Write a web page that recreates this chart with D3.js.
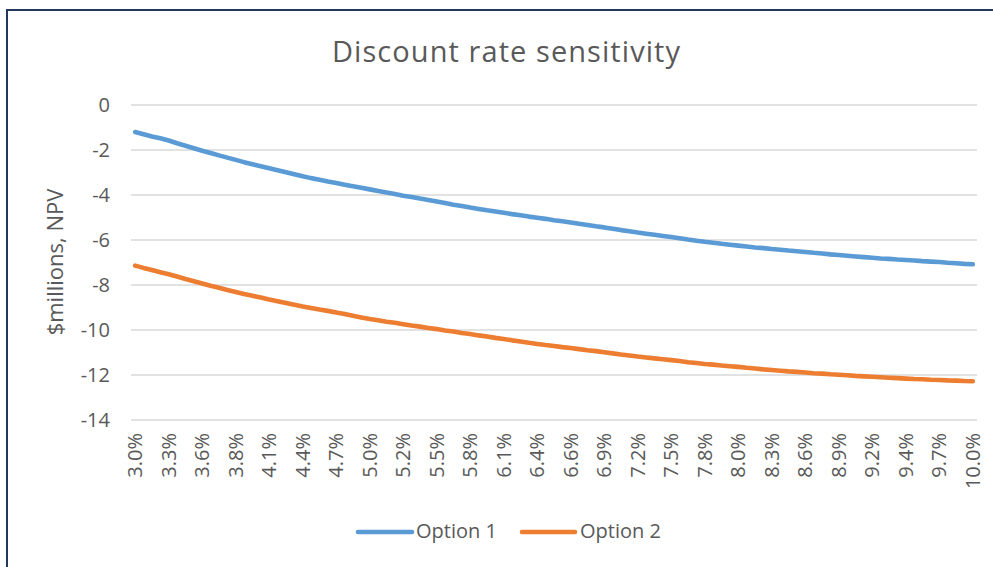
<!DOCTYPE html>
<html>
<head>
<meta charset="utf-8">
<script src="https://cdn.jsdelivr.net/npm/d3@7"></script>
<style>
  html, body { margin: 0; padding: 0; background: #ffffff; }
  svg { display: block; }
  text { font-family: "Open Sans", "Liberation Sans", sans-serif; fill: #595959; }
</style>
</head>
<body>
<svg id="chart" width="993" height="567"></svg>
<script>
const title = "Discount rate sensitivity";
const yTitle = "$millions, NPV";
const seriesNames = ["Option 1", "Option 2"];
const seriesColors = ["#5B9BD5", "#ED7D31"];

// discount rates (%)
const rates = [3.00, 3.07, 3.14, 3.21, 3.28, 3.35, 3.42, 3.49, 3.56, 3.63, 3.70, 3.77, 3.84, 3.91, 3.98,
  4.05, 4.12, 4.19, 4.26, 4.33, 4.40, 4.47, 4.54, 4.61, 4.68, 4.75, 4.82, 4.89, 4.96, 5.03, 5.10, 5.17,
  5.24, 5.31, 5.38, 5.45, 5.52, 5.59, 5.66, 5.73, 5.80, 5.87, 5.94, 6.01, 6.08, 6.15, 6.22, 6.29, 6.36,
  6.43, 6.50, 6.57, 6.64, 6.71, 6.78, 6.85, 6.92, 6.99, 7.06, 7.13, 7.20, 7.27, 7.34, 7.41, 7.48, 7.55,
  7.62, 7.69, 7.76, 7.83, 7.90, 7.97, 8.04, 8.11, 8.18, 8.25, 8.32, 8.39, 8.46, 8.53, 8.60, 8.67, 8.74,
  8.81, 8.88, 8.95, 9.02, 9.09, 9.16, 9.23, 9.30, 9.37, 9.44, 9.51, 9.58, 9.65, 9.72, 9.79, 9.86, 9.93,
  10.00];

const option1 = [-1.20, -1.30, -1.40, -1.48, -1.58, -1.70, -1.81, -1.92, -2.03, -2.13, -2.24, -2.34,
  -2.44, -2.54, -2.63, -2.72, -2.81, -2.90, -2.99, -3.08, -3.17, -3.25, -3.32, -3.40, -3.47, -3.54,
  -3.61, -3.68, -3.75, -3.82, -3.89, -3.96, -4.03, -4.09, -4.16, -4.22, -4.29, -4.36, -4.43, -4.49,
  -4.56, -4.62, -4.68, -4.73, -4.79, -4.85, -4.90, -4.96, -5.01, -5.06, -5.12, -5.17, -5.22, -5.28,
  -5.33, -5.39, -5.44, -5.50, -5.56, -5.61, -5.67, -5.72, -5.77, -5.82, -5.87, -5.92, -5.98, -6.03,
  -6.08, -6.12, -6.17, -6.21, -6.25, -6.29, -6.33, -6.36, -6.40, -6.43, -6.47, -6.50, -6.53, -6.57,
  -6.60, -6.64, -6.67, -6.70, -6.73, -6.76, -6.79, -6.82, -6.84, -6.87, -6.89, -6.91, -6.94, -6.96,
  -6.98, -7.01, -7.03, -7.06, -7.08];

const option2 = [-7.14, -7.24, -7.33, -7.43, -7.52, -7.62, -7.73, -7.83, -7.93, -8.03, -8.12, -8.22,
  -8.31, -8.40, -8.48, -8.56, -8.64, -8.72, -8.80, -8.88, -8.96, -9.02, -9.09, -9.15, -9.22, -9.29,
  -9.37, -9.44, -9.51, -9.57, -9.63, -9.68, -9.74, -9.80, -9.85, -9.91, -9.96, -10.02, -10.07, -10.13,
  -10.18, -10.24, -10.29, -10.35, -10.40, -10.46, -10.51, -10.57, -10.62, -10.67, -10.71, -10.76,
  -10.80, -10.85, -10.90, -10.94, -10.99, -11.04, -11.09, -11.13, -11.18, -11.22, -11.26, -11.30,
  -11.34, -11.38, -11.43, -11.47, -11.51, -11.54, -11.58, -11.61, -11.64, -11.68, -11.71, -11.75,
  -11.78, -11.81, -11.84, -11.86, -11.89, -11.92, -11.94, -11.97, -11.99, -12.01, -12.04, -12.06,
  -12.08, -12.10, -12.12, -12.14, -12.16, -12.18, -12.19, -12.21, -12.22, -12.24, -12.25, -12.27,
  -12.28];

const yTicks = [0, -2, -4, -6, -8, -10, -12, -14];
const xLabelEvery = 4;

const svg = d3.select("#chart");

// outer frame
svg.append("rect")
  .attr("x", 7).attr("y", 10).attr("width", 1000).attr("height", 600)
  .attr("fill", "none").attr("stroke", "#1F3A5A").attr("stroke-width", 2);

const plot = { left: 131, right: 977, top: 105, bottom: 420 };

const x = d3.scaleBand().domain(rates).range([plot.left, plot.right]);
const y = d3.scaleLinear().domain([-14, 0]).range([plot.bottom, plot.top]);
const cx = d => x(d) + x.bandwidth() / 2;

// gridlines
svg.append("g").selectAll("line").data(yTicks).join("line")
  .attr("x1", plot.left).attr("x2", plot.right)
  .attr("y1", d => y(d)).attr("y2", d => y(d))
  .attr("stroke", "#D9D9D9").attr("stroke-width", 1.5);

// y axis labels
const yAxis = d3.axisLeft(y).tickValues(yTicks).tickSize(0).tickPadding(0).tickFormat(d => String(d));
const gy = svg.append("g").attr("transform", `translate(110,0)`).call(yAxis);
gy.select(".domain").remove();
gy.selectAll("text").style("font-size", "20px").attr("fill", "#595959")
  .style("font-family", "'Open Sans', sans-serif");

// x axis labels
const xAxis = d3.axisBottom(x)
  .tickValues(rates.filter((d, i) => i % xLabelEvery === 0))
  .tickSize(0).tickPadding(0)
  .tickFormat(d => d.toFixed(1) + "%");
const gx = svg.append("g").attr("transform", `translate(0,433)`).call(xAxis);
gx.select(".domain").remove();
gx.selectAll("text")
  .attr("transform", "rotate(-90)")
  .attr("text-anchor", "end")
  .attr("x", 0).attr("y", 0).attr("dy", "0.35em")
  .style("font-size", "20px").attr("fill", "#595959")
  .style("font-family", "'Open Sans', sans-serif");

// lines
const line = d3.line().x((d, i) => cx(rates[i])).y(d => y(d));
[option1, option2].forEach((s, k) => {
  svg.append("path").datum(s)
    .attr("d", line)
    .attr("fill", "none")
    .attr("stroke", seriesColors[k])
    .attr("stroke-width", 4.6)
    .attr("stroke-linejoin", "round")
    .attr("stroke-linecap", "round");
});

// title
svg.append("text")
  .attr("x", 506).attr("y", 62)
  .attr("text-anchor", "middle")
  .attr("textLength", 348)
  .attr("lengthAdjust", "spacing")
  .style("font-size", "29px")
  .text(title);

// y title
svg.append("text")
  .attr("transform", `translate(63,262) rotate(-90)`)
  .attr("text-anchor", "middle")
  .style("font-size", "22px")
  .text(yTitle);

// legend
const legendItems = [
  { lx1: 358, lx2: 412, tx: 416 },
  { lx1: 522, lx2: 575, tx: 580 }
];
legendItems.forEach((p, k) => {
  svg.append("line")
    .attr("x1", p.lx1).attr("x2", p.lx2).attr("y1", 532).attr("y2", 532)
    .attr("stroke", seriesColors[k]).attr("stroke-width", 4.6).attr("stroke-linecap", "round");
  svg.append("text")
    .attr("x", p.tx).attr("y", 538)
    .style("font-size", "20px")
    .text(seriesNames[k]);
});
</script>
</body>
</html>
